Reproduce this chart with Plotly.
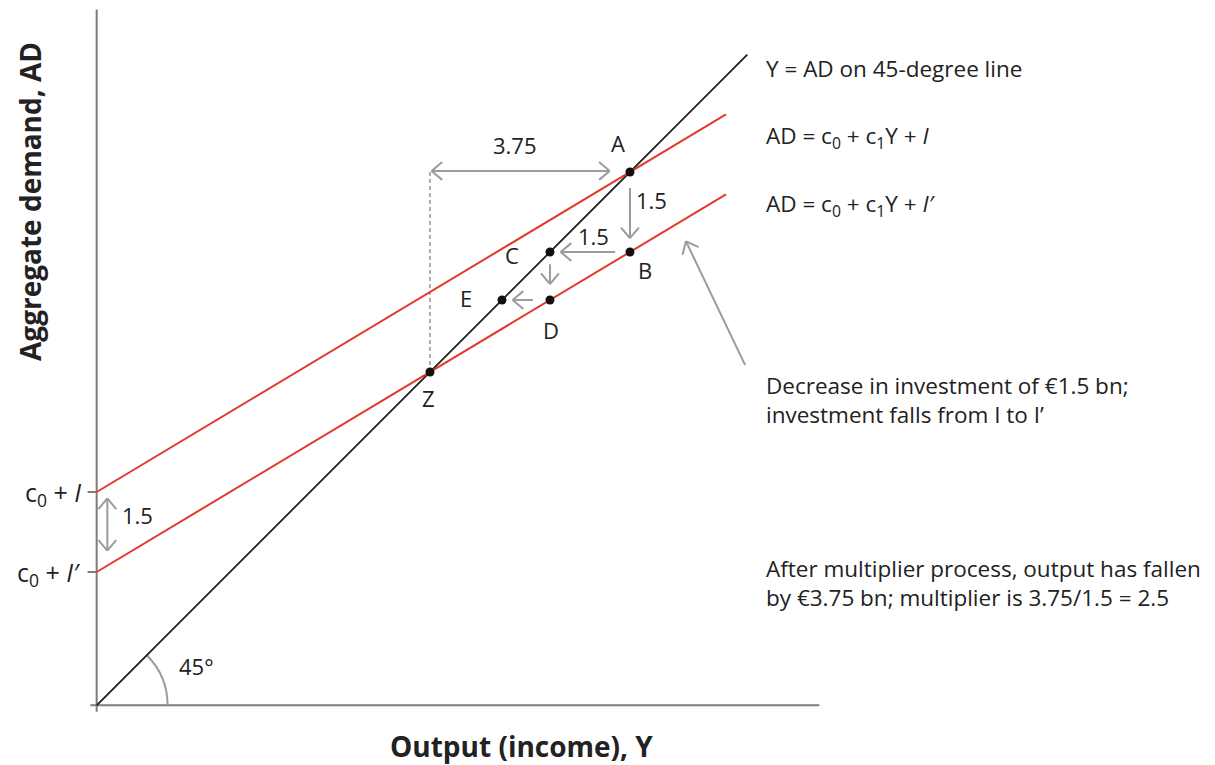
import math
import plotly.graph_objects as go

# ---------------- data ----------------
c1 = 0.6
ad_I_x = [0.0, 11.8]
ad_I_y = [4.0, 11.08]
ad_I2_x = [0.0, 11.8]
ad_I2_y = [2.5, 9.58]
line45_x = [0.0, 12.2]
line45_y = [0.0, 12.2]

point_labels = ["A", "B", "C", "D", "E", "Z"]
point_x = [10.0, 10.0, 8.5, 8.5, 7.6, 6.25]
point_y = [10.0, 8.5, 8.5, 7.6, 7.6, 6.25]

tick_vals = [4.0, 2.5]
tick_text = ["c<sub>0</sub> + <i>I</i>", "c<sub>0</sub> + <i>I′</i>"]

fall_label = "3.75"
shift_label = "1.5"

# ---------------- styles ----------------
RED = "#e2392c"
GREY = "#9b9b9b"
AXIS = "#7d7d7d"
BLACK = "#1f1f1f"
FONT = "Open Sans"
TXT = "#222222"
S = 53.33  # px per unit (equal on both axes)
OFF = 8    # page body margin

L, R, T, B = 78, 393, 0, 57
W, H = 1215, 765
pw, ph = W - L - R, H - T - B

fig = go.Figure()

fig.add_trace(go.Scatter(x=line45_x, y=line45_y, mode="lines",
                         line=dict(color=BLACK, width=1.8), hoverinfo="skip"))
fig.add_trace(go.Scatter(x=ad_I_x, y=ad_I_y, mode="lines",
                         line=dict(color=RED, width=2), hoverinfo="skip"))
fig.add_trace(go.Scatter(x=ad_I2_x, y=ad_I2_y, mode="lines",
                         line=dict(color=RED, width=2), hoverinfo="skip"))
fig.add_trace(go.Scatter(x=point_x, y=point_y, mode="markers",
                         marker=dict(color="#111111", size=9), hoverinfo="skip"))

shapes = []


def seg(x0, y0, x1, y1, color=GREY, width=2, dash="solid"):
    shapes.append(dict(type="line", xref="x", yref="y", x0=x0, y0=y0, x1=x1, y1=y1,
                       line=dict(color=color, width=width, dash=dash), layer="below"))


def head(xt, yt, xf, yf, size=0.26, color=GREY):
    ang = math.atan2(yt - yf, xt - xf)
    for d in (math.radians(40), -math.radians(40)):
        a = ang + math.pi + d
        seg(xt, yt, xt + size * math.cos(a), yt + size * math.sin(a), color=color)


def arrow(x0, y0, x1, y1, double=False):
    seg(x0, y0, x1, y1)
    head(x1, y1, x0, y0)
    if double:
        head(x0, y0, x1, y1)


# axes
seg(0, -0.12, 0, 13.05, color=AXIS, width=2)
seg(-0.12, 0, 13.55, 0, color=AXIS, width=2)
for tv in tick_vals:
    seg(-0.17, tv, 0, tv, color=AXIS, width=2)

# dashed vertical from Z
seg(point_x[5], point_y[5], point_x[5], 10.02, color=GREY, width=1.6, dash="4px,3px")

# arrows
arrow(6.28, 10.02, 9.62, 10.02, double=True)     # 3.75
arrow(10.0, 9.7, 10.0, 8.76)                      # A -> B
arrow(9.72, 8.5, 8.7, 8.5)                        # B -> C
arrow(8.5, 8.27, 8.5, 7.9)                        # C -> D
arrow(8.18, 7.6, 7.8, 7.6)                        # D -> E
arrow(0.2, 3.88, 0.2, 2.9, double=True)           # left 1.5
arrow(12.16, 6.38, 11.05, 8.7)                    # pointer to lower AD

# 45 degree arc (bezier)
r = 1.33
th = math.radians(45)
k = 4 / 3 * math.tan(th / 4)
p0 = (r, 0)
p1 = (r, k * r)
p3 = (r * math.cos(th), r * math.sin(th))
p2 = (p3[0] + k * r * math.sin(th), p3[1] - k * r * math.cos(th))
shapes.append(dict(type="path", xref="x", yref="y",
                   path=f"M {p0[0]},{p0[1]} C {p1[0]},{p1[1]} {p2[0]},{p2[1]} {p3[0]},{p3[1]}",
                   line=dict(color=GREY, width=2), layer="below"))

ann = []


def txt(px, py, t, size=22, xanchor="center", yanchor="middle", bold=False, angle=0, color=TXT):
    xp = (px - OFF - L) / pw
    yp = 1 - (py - OFF - T) / ph
    ann.append(dict(x=xp, y=yp, xref="paper", yref="paper", text=(f"<b>{t}</b>" if bold else t),
                    showarrow=False, xanchor=xanchor, yanchor=yanchor, textangle=angle,
                    align="left", font=dict(family=FONT, size=size, color=color)))


def y2px(v):
    return 705 - v * S


# tick labels
for tv, tt in zip(tick_vals, tick_text):
    txt(83, y2px(tv) + 2, tt, size=25, xanchor="right")

# point labels
lab_pos = {"A": (618, 143), "B": (645, 270), "C": (512, 255),
           "D": (551, 330), "E": (466, 298), "Z": (428, 398)}
for lb in point_labels:
    px, py = lab_pos[lb]
    txt(px, py, lb, size=22)

txt(515, 145, fall_label, size=22)
txt(634, 200, shift_label, size=22, xanchor="left")
txt(593, 236, shift_label, size=22)
txt(120, 515, shift_label, size=22, xanchor="left")
txt(177, 666, "45°", size=22, xanchor="left")

# right side notes
RX = 764
NS = 22.5
txt(RX, 68, "Y = AD on 45-degree line", size=NS, xanchor="left")
txt(RX, 137, "AD = c<sub>0</sub> + c<sub>1</sub>Y + <i>I</i>", size=NS, xanchor="left")
txt(RX, 205, "AD = c<sub>0</sub> + c<sub>1</sub>Y + <i>I′</i>", size=NS, xanchor="left")
txt(RX, 400, "Decrease in investment of €1.5 bn;<br>investment falls from I to I’", size=NS, xanchor="left")
txt(RX, 583, "After multiplier process, output has fallen<br>by €3.75 bn; multiplier is 3.75/1.5 = 2.5",
    size=NS, xanchor="left")

# axis titles
txt(521, 746, "Output (income), Y", size=28, bold=True)
txt(30, 202, "Aggregate demand, AD", size=28, bold=True, angle=-90)

fig.update_layout(
    width=W, height=H,
    margin=dict(l=L, r=R, t=T, b=B),
    paper_bgcolor="white", plot_bgcolor="white",
    showlegend=False,
    xaxis=dict(range=[-0.2, -0.2 + pw / S], visible=False, fixedrange=True),
    yaxis=dict(range=[-0.2, -0.2 + ph / S], visible=False, fixedrange=True),
    shapes=shapes, annotations=ann,
)

fig.write_html("out.html")
